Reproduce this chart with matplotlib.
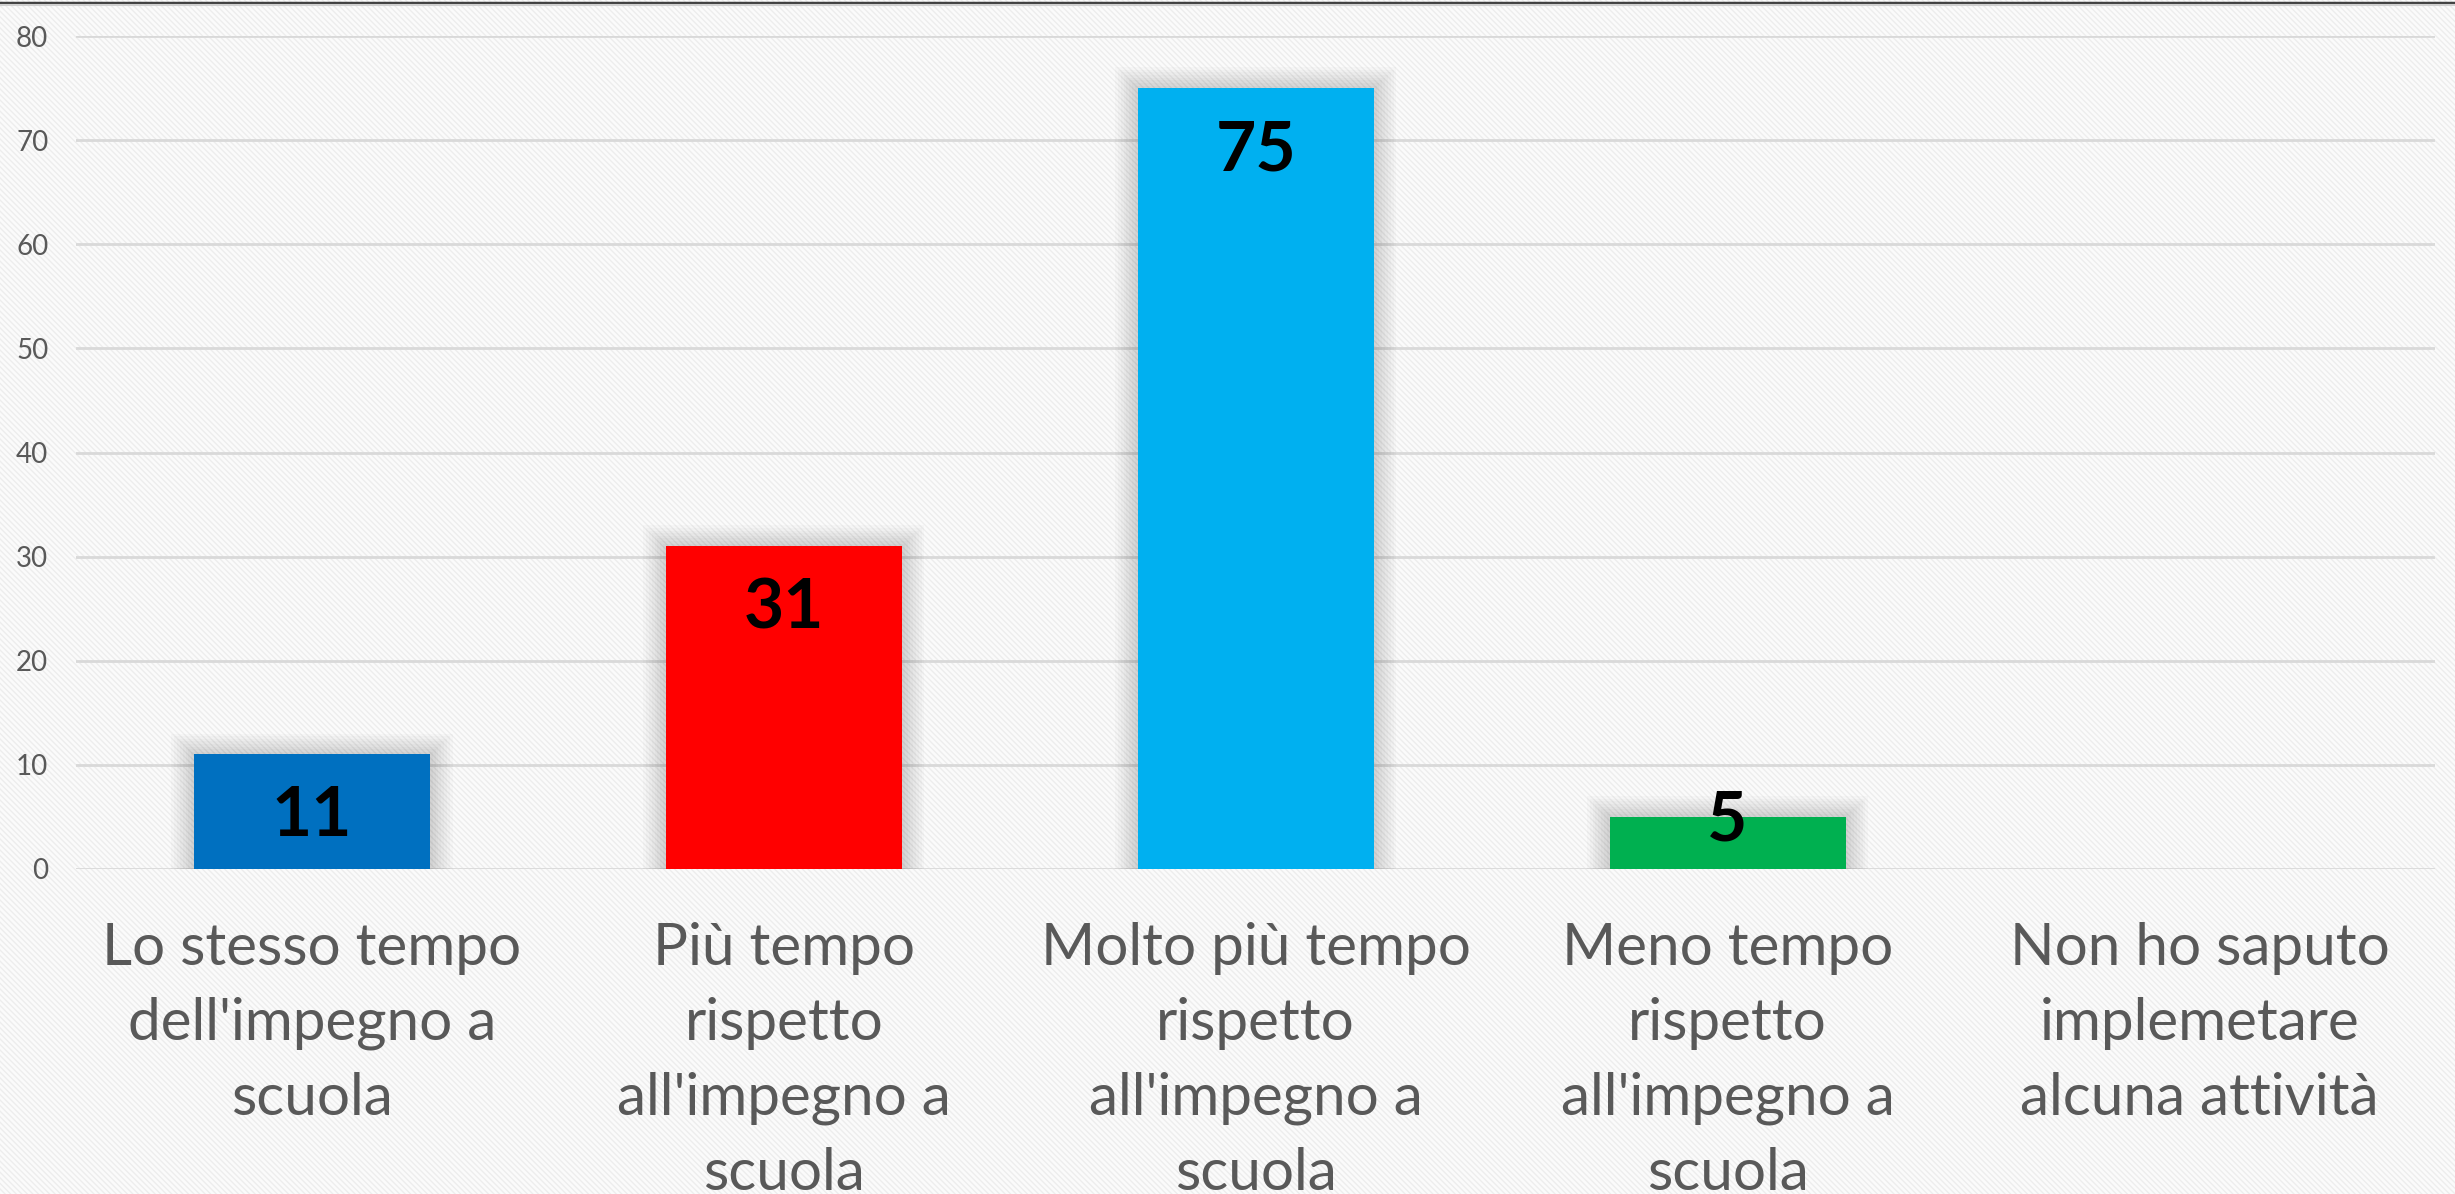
import matplotlib.pyplot as plt
from matplotlib.lines import Line2D
from matplotlib.patches import Rectangle

categories = [
    "Lo stesso tempo\ndell'impegno a\nscuola",
    "Più tempo\nrispetto\nall'impegno a\nscuola",
    "Molto più tempo\nrispetto\nall'impegno a\nscuola",
    "Meno tempo\nrispetto\nall'impegno a\nscuola",
    "Non ho saputo\nimplemetare\nalcuna attività",
]
values = [11, 31, 75, 5, 0]
bar_colors = ["#0070C0", "#FF0000", "#00B0F0", "#00B050", "#7F7F7F"]
y_ticks = [0, 10, 20, 30, 40, 50, 60, 70, 80]

plt.rcParams["font.family"] = ["Lato", "DejaVu Sans"]
plt.rcParams["hatch.linewidth"] = 1.0

fig = plt.figure(figsize=(24.55, 11.94), dpi=100)

# light striped slide background
bg = Rectangle((0, 0), 1, 1, transform=fig.transFigure, facecolor="#fbfbfb",
               edgecolor="#ededed", hatch="\\\\\\\\\\\\", linewidth=0, zorder=-10)
fig.patches.append(bg)

# dark rule along the top edge
fig.add_artist(Line2D([0, 1], [0.9975, 0.9975], transform=fig.transFigure,
                      color="#404040", lw=2.5))
fig.add_artist(Line2D([0, 1], [0.9955, 0.9955], transform=fig.transFigure,
                      color="#d0d0d0", lw=1.5))

ax = fig.add_axes([0.031, 0.2722, 0.961, 0.6976])
ax.set_facecolor("none")

x = list(range(len(categories)))

# soft glow behind the bars
for k in range(1, 9):
    ax.bar(x, [v + 0.25 * k if v > 0 else 0 for v in values], width=0.5 + 0.012 * k,
           color="black", alpha=0.018, linewidth=0, zorder=1)

ax.bar(x, values, width=0.5, color=bar_colors, linewidth=0, zorder=3)

for xi, v in zip(x, values):
    if v <= 0:
        continue
    offset = -45 if v > 8 else -3
    ax.annotate(str(v), (xi, v), xytext=(0, offset), textcoords="offset points",
                ha="center", va="center", fontsize=50, fontweight="bold",
                color="black", zorder=4)

ax.set_xlim(-0.5, len(categories) - 0.5)
ax.set_ylim(0, 80)
ax.set_yticks(y_ticks)
ax.set_xticks(x)
ax.set_xticklabels(categories, fontsize=42, color="#595959", linespacing=1.51)
ax.tick_params(axis="x", length=0, pad=38)
ax.tick_params(axis="y", length=0, pad=20, labelsize=20, labelcolor="#595959")
ax.yaxis.grid(True, color="#d9d9d9", linewidth=2, zorder=0)
ax.set_axisbelow(True)
for spine in ax.spines.values():
    spine.set_visible(False)

fig.savefig("out.png", dpi=100)
